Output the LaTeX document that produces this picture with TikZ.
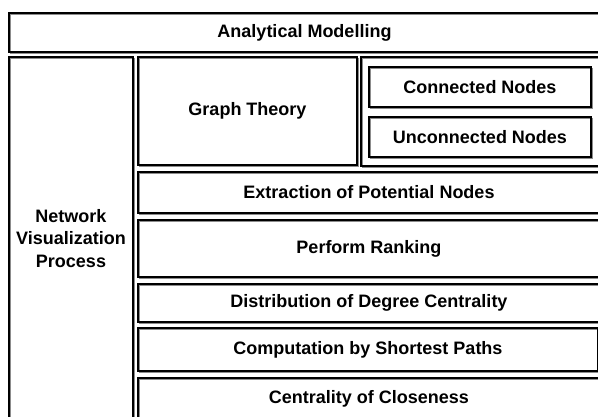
\documentclass[tikz,border=0pt]{standalone}
\usepackage{fontspec}
\setmainfont{Liberation Sans}
\begin{document}
\begin{tikzpicture}[x=1pt,y=-1pt,
  box/.style={draw=black, line width=2.2pt, rectangle, inner sep=0pt, align=center,
    font=\bfseries\fontsize{18}{22.5}\selectfont,
    preaction={draw=black!45, line width=1.6pt, transform canvas={shift={(1.6pt,-1.6pt)}}}}]
\useasboundingbox (0,0) rectangle (598,417);
\clip (0,0) rectangle (598,417);
\node[box, minimum width=591pt, minimum height=39pt] (top) at (304.5,32.5) {Analytical Modelling};
\node[box, minimum width=124pt, minimum height=363pt] (nvp) at (71,238.5) {Network\\Visualization\\Process};
\node[box, minimum width=219pt, minimum height=108pt] (gt) at (247.5,111) {Graph Theory};
\node[box, minimum width=239pt, minimum height=109pt] (cont) at (480.5,111.5) {};
\node[box, minimum width=222pt, minimum height=40pt] (cn) at (480,87) {Connected Nodes};
\node[box, minimum width=222pt, minimum height=40pt] (un) at (480,137) {Unconnected Nodes};
\node[box, minimum width=462pt, minimum height=41pt] (ext) at (369,192.5) {Extraction of Potential Nodes};
\node[box, minimum width=462pt, minimum height=57pt] (pr) at (369,248.5) {Perform Ranking};
\node[box, minimum width=462pt, minimum height=38pt] (dist) at (369,303) {Distribution of Degree Centrality};
\node[box, minimum width=460pt, minimum height=43pt] (comp) at (368,349.5) {Computation by Shortest Paths};
\node[box, minimum width=462pt, minimum height=42pt] (cent) at (369,399) {Centrality of Closeness};
\end{tikzpicture}
\end{document}
